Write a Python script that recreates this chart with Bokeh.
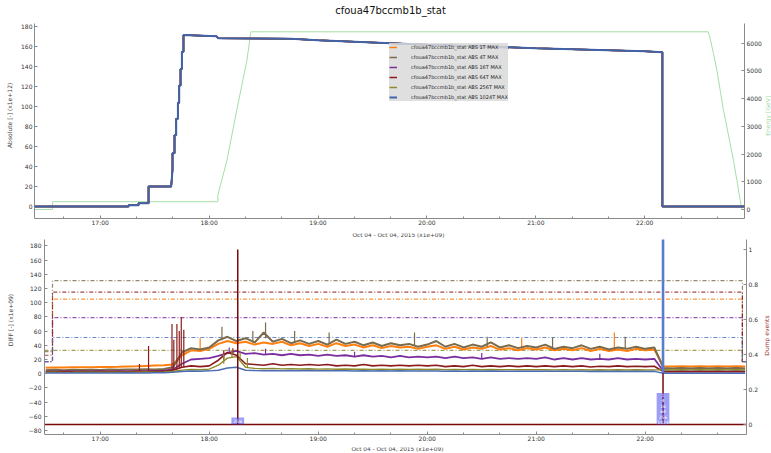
import math
import pandas as pd
from bokeh.plotting import figure
from bokeh.models import (Range1d, LinearAxis, FixedTicker, DatetimeTickFormatter,
                          CustomJSTickFormatter, Legend, LegendItem)
from bokeh.layouts import column, row
from bokeh.embed import file_html
from bokeh.resources import INLINE
from bokeh.core.properties import value

DAY = "2015-10-04"
FONT = "DejaVu Sans"
STAT = "cfoua47bccmb1b_stat"
TIME_LABEL = "Oct 04 - Oct 04, 2015 (x1e+09)"

# ---------------------------------------------------------------- data
series_names = ["1T", "4T", "16T", "64T", "256T", "1024T"]
series_colors = {"1T": "#ff7f0e", "4T": "#7a6b4c", "16T": "#7a2ea0",
                 "64T": "#8b1a1a", "256T": "#8c8a2a", "1024T": "#4a6db4"}

hour_ticks = ["17:00", "18:00", "19:00", "20:00", "21:00", "22:00"]
minor_ticks = ["16:40", "17:20", "17:40", "18:20", "18:40", "19:20", "19:40",
               "20:20", "20:40", "21:20", "21:40", "22:20", "22:40"]

# absolute losses (x1e12), identical for every running sum
abs_time = ["16:23:48", "17:15:36", "17:15:36", "17:21:07", "17:21:07", "17:26:38",
            "17:26:38", "17:39:07", "17:39:50", "17:39:50", "17:40:56", "17:40:56",
            "17:41:52", "17:41:52", "17:42:49", "17:42:49", "17:43:32", "17:43:32",
            "17:44:15", "17:44:15", "17:45:01", "17:45:01", "17:45:53", "17:45:53",
            "18:04:01", "18:05:06", "18:45:00", "19:00:00", "19:20:00", "20:00:00",
            "21:00:00", "22:00:00", "22:09:45", "22:09:45", "22:54:59"]
abs_value = [0, 0, 1.3, 1.3, 3.3, 3.3, 20, 20, 36.7, 53.3, 53.3, 71.3, 71.3, 88,
             88, 104, 104, 121.3, 121.3, 137.7, 137.7, 155, 155, 171.7, 170.5,
             168.5, 168, 166.5, 165, 162, 158.5, 155.5, 154.5, 0, 0]

# beam energy [GeV]
energy_time = ["16:23:48", "16:33:43", "16:33:43", "18:04:51", "18:04:51", "18:09:49",
               "18:15:12", "18:20:49", "18:23:01", "22:35:00", "22:36:05", "22:37:55",
               "22:39:47", "22:41:36", "22:43:25", "22:45:17", "22:47:06", "22:48:55",
               "22:50:48", "22:52:37", "22:53:30", "22:54:59"]
energy_value = [0, 0, 280, 280, 530, 1768, 3572, 5376, 6411, 6411, 6162, 5620,
                5018, 4296, 3574, 2971, 2371, 1769, 1047, 325, 0, 0]

# dump thresholds (x1e9)
thr_time = ["16:29:19", "16:33:43", "22:53:30", "22:55:45"]
thr_value = {"1T": [17, 105, 17, 17], "4T": [31, 131, 17, 17],
             "16T": [17, 79, 17, 17], "64T": [26, 115, 17, 17],
             "256T": [33, 33, 17, 17], "1024T": [17, 51, 17, 17]}

# differential losses (x1e9), sampled every 5 minutes from 16:30 to 22:55
diff_value = {
    "1T": [8.5, 8.8, 8.6, 9.0, 9.2, 9.0, 9.4, 9.6, 9.8, 10.2, 10.5, 11.0, 11.5, 12.0,
           13, 26, 33, 32, 35, 42, 46, 43, 45, 41, 44, 42, 45, 40, 43, 39, 42,
           38, 43, 39, 41, 37, 40, 36, 39, 37, 38, 35,
           38, 40, 35, 38, 34, 37, 35, 39, 34, 36, 33, 36,
           34, 37, 33, 35, 33, 36, 32, 35, 32, 34, 32, 35, 33, 34,
           10.5, 10.0, 10.5, 10.2, 10.6, 10.2, 10.5, 10.0, 10.4, 10.2],
    "4T": [5.0, 5.5, 5.0, 5.5, 5.2, 5.6, 5.3, 5.8, 5.5, 6.0, 5.8, 6.2, 6.0, 6.5,
           9, 30, 36, 34, 37, 47, 52, 46, 50, 44, 58, 45, 49, 43, 47, 42, 46,
           41, 48, 42, 45, 40, 44, 39, 43, 40, 42, 38,
           41, 46, 38, 42, 37, 41, 38, 44, 37, 40, 36, 39,
           37, 41, 35, 38, 36, 40, 35, 38, 34, 37, 35, 38, 35, 37,
           8.0, 7.5, 8.0, 7.5, 8.0, 7.5, 8.0, 7.5, 8.0, 7.5],
    "16T": [3.2, 3.0, 3.3, 3.1, 3.4, 3.2, 3.5, 3.3, 3.6, 3.4, 3.7, 3.6, 4.0, 4.2,
            6, 14, 20, 21, 22, 25, 29, 32, 28, 29, 27, 28, 26, 28, 26, 27, 25,
            27, 25, 26, 24, 26, 24, 25, 23, 25, 23, 24,
            23, 24, 22, 24, 22, 23, 21, 23, 21, 22, 21, 22,
            21, 23, 20, 22, 20, 22, 20, 21, 20, 22, 20, 21, 20, 21,
            3.5, 3.3, 3.5, 3.3, 3.5, 3.3, 3.5, 3.3, 3.5, 3.3],
    "64T": [2.8, 2.6, 2.9, 2.7, 3.0, 2.8, 3.1, 2.9, 3.2, 3.0, 3.3, 3.1, 3.4, 3.5,
            5, 9, 11, 10, 11, 19, 30, 26, 14, 13, 12, 14, 12, 13, 12, 13, 12,
            13, 11, 12, 11, 13, 11, 12, 11, 12, 11, 12,
            11, 12, 10, 11, 10, 12, 10, 11, 10, 11, 10, 11,
            10, 11, 10, 11, 10, 11, 9.5, 10.5, 10, 11, 10, 10.5, 10, 10.5,
            3.0, 2.8, 3.0, 2.8, 3.0, 2.8, 3.0, 2.8, 3.0, 2.8],
    "256T": [2.0, 2.1, 1.9, 2.0, 2.2, 2.0, 2.1, 2.2, 2.0, 2.3, 2.2, 2.4, 2.3, 2.5,
             3.5, 5, 6, 5.5, 6.5, 12, 22, 24, 9, 7.5, 7, 7.5, 6.8, 7.2, 6.6, 7.0, 6.5,
             6.8, 6.3, 6.7, 6.2, 6.5, 6.1, 6.4, 6.0, 6.3, 5.9, 6.2,
             6.0, 6.2, 5.8, 6.1, 5.7, 6.0, 5.6, 5.9, 5.6, 5.8, 5.5, 5.8,
             5.5, 5.7, 5.4, 5.7, 5.4, 5.6, 5.3, 5.6, 5.3, 5.5, 5.2, 5.5, 5.2, 5.4,
             5.5, 5.3, 5.6, 5.4, 5.5, 5.3, 5.6, 5.4, 5.5, 5.3],
    "1024T": [1.0, 1.1, 0.9, 1.0, 1.1, 1.0, 0.9, 1.1, 1.0, 1.2, 1.1, 1.0, 1.2, 1.3,
              2, 3, 3.8, 3.6, 4.0, 5, 8, 9, 5, 4.5, 4.2, 4.6, 4.3, 4.5, 4.2, 4.4, 4.1,
              4.3, 4.0, 4.2, 3.9, 4.1, 3.8, 4.0, 3.8, 4.0, 3.7, 3.9,
              3.7, 3.9, 3.6, 3.8, 3.5, 3.7, 3.5, 3.7, 3.4, 3.6, 3.4, 3.6,
              3.4, 3.6, 3.3, 3.5, 3.3, 3.5, 3.2, 3.4, 3.2, 3.4, 3.1, 3.3, 3.1, 3.3,
              0.6, 0.5, 0.6, 0.5, 0.6, 0.5, 0.6, 0.5, 0.6, 0.5],
}

# short loss spikes: time, level before the spike, spike top
spike_time = {
    "1T": ["17:55:00", "20:52:00", "21:43:00"],
    "4T": ["18:07:00", "18:24:00", "18:31:00", "18:47:00", "19:06:00", "19:53:00",
           "20:33:00", "21:09:00", "21:49:00"],
    "16T": ["18:11:00", "18:31:00", "19:20:00", "20:30:00", "21:35:00"],
    "64T": ["17:21:36", "17:26:36", "17:39:30", "17:40:30", "17:42:12", "17:43:30",
            "17:44:36", "17:46:00", "18:08:00", "18:13:00"],
    "256T": ["18:08:00", "18:12:30", "18:17:00", "18:21:00"],
    "1024T": ["22:09:48"],
}
spike_base = {"1T": [32, 34, 32], "4T": [47, 44, 50, 44, 42, 40, 38, 37, 36],
              "16T": [29, 27, 24, 21, 20], "64T": [3.1, 3.1, 4, 5, 6, 7, 8, 9, 20, 28],
              "256T": [14, 22, 20, 9], "1024T": [0.5]}
spike_peak = {"1T": [50, 50, 58], "4T": [66, 60, 72, 60, 58, 58, 52, 51, 52],
              "16T": [37, 35, 31, 29, 28], "64T": [13.6, 39, 70, 48, 70, 60, 80, 62, 33, 36],
              "256T": [28, 33, 30, 22], "1024T": [155000]}

# dump events and the thresholds that fired
dump_time = ["18:15:42", "22:09:48"]
dump_flag = [1, 1]
dump_label = ["256", "1\n4\n16\n64\n256\n1024"]


# ---------------------------------------------------------------- helpers
def at(hms):
    return pd.Timestamp(f"{DAY} {hms}")


def times(lst):
    return [at(s) for s in lst]


def ms(lst):
    return [at(s).value // 10**6 for s in lst]


def text_strip(width, height, text, x, y, size="6px", color="#444444", vertical=False):
    # a small frameless canvas holding one caption (titles and axis titles)
    s = figure(width=width, height=height, x_range=Range1d(0, width),
               y_range=Range1d(0, height), output_backend="svg",
               toolbar_location=None, min_border=0,
               x_axis_location=None, y_axis_location=None)
    s.outline_line_color = None
    s.grid.visible = False
    s.text(x=[x], y=[y], text=[text], angle=math.pi / 2 if vertical else 0,
           text_align="center", text_baseline="middle",
           text_font=value(FONT), text_font_size=size, text_color=color)
    return s


def style_axis(ax, standoff):
    ax.axis_line_color = "#8a8a8a"
    ax.major_tick_line_color = "#8a8a8a"
    ax.minor_tick_line_color = "#8a8a8a"
    ax.major_tick_in = 3
    ax.major_tick_out = 0
    ax.minor_tick_in = 2
    ax.minor_tick_out = 0
    ax.major_label_text_font = FONT
    ax.major_label_text_font_size = "6px"
    ax.major_label_text_color = "#333333"
    ax.major_label_standoff = standoff


def time_axis(p):
    ax = p.xaxis[0]
    ax.ticker = FixedTicker(ticks=ms(hour_ticks), minor_ticks=ms(minor_ticks))
    ax.formatter = DatetimeTickFormatter(hours="%H:%M", hourmin="%H:%M",
                                         minutes="%H:%M", minsec="%H:%M",
                                         days="%H:%M")
    style_axis(ax, 0)


# ---------------------------------------------------------------- top: absolute
p1 = figure(width=747, height=207, x_axis_type="datetime",
            x_range=Range1d(at("16:23:48"), at("22:54:59")),
            y_range=Range1d(-12, 183.3),
            output_backend="svg", toolbar_location=None,
            min_border_left=16, min_border_right=21,
            min_border_top=0, min_border_bottom=12)
p1.outline_line_color = None
p1.grid.visible = False

p1.extra_y_ranges = {"energy": Range1d(-325, 6711)}
p1.line(times(energy_time), energy_value, y_range_name="energy",
        line_color="#a6dea6", line_width=1)

legend_items = []
abs_t = times(abs_time)
for name in series_names:
    r = p1.line(abs_t, abs_value, line_color=series_colors[name], line_width=1.5)
    legend_items.append(LegendItem(label=f"{STAT} ABS {name} MAX", renderers=[r]))
r.glyph.line_color = "#4262aa"
r.glyph.line_width = 2
r.level = "overlay"

time_axis(p1)
ly = p1.yaxis[0]
ly.ticker = FixedTicker(ticks=list(range(0, 181, 20)))
style_axis(ly, 2)

ry = LinearAxis(y_range_name="energy", ticker=FixedTicker(ticks=list(range(0, 6001, 1000))))
style_axis(ry, 2)
p1.add_layout(ry, "right")

legend = Legend(items=legend_items, location=(355, 117),
                label_text_font=FONT, label_text_font_size="5px",
                label_text_color="#222222",
                label_height=8, glyph_height=8, glyph_width=8, spacing=2,
                padding=1, margin=0, label_standoff=14, label_width=96,
                background_fill_color="#d9d9d9", background_fill_alpha=0.85,
                border_line_color=None)
p1.add_layout(legend)

# ---------------------------------------------------------------- bottom: differential
p2 = figure(width=746, height=205, x_axis_type="datetime",
            x_range=Range1d(at("16:29:19"), at("22:55:45")),
            y_range=Range1d(-85.6, 189),
            output_backend="svg", toolbar_location=None,
            min_border_left=26, min_border_right=18,
            min_border_top=0, min_border_bottom=9)
p2.outline_line_color = None
p2.grid.visible = False
p2.extra_y_ranges = {"dump": Range1d(-0.057, 1.057)}

thr_t = times(thr_time)
for name in series_names:
    p2.step(thr_t, thr_value[name], mode="after", line_color=series_colors[name],
            line_alpha=0.8, line_width=1.2, line_dash="4 2 1 2")

grid_t = list(pd.date_range(f"{DAY} 16:30", f"{DAY} 22:55", freq="5min"))
line_widths = {"1T": 2.0, "4T": 2.0, "16T": 1.8, "64T": 1.6, "256T": 1.4, "1024T": 1.5}
for name in series_names:
    p2.line(grid_t, diff_value[name], line_color=series_colors[name],
            line_width=line_widths[name])
    if name != "1024T":
        p2.segment(x0=times(spike_time[name]), y0=spike_base[name],
                   x1=times(spike_time[name]), y1=spike_peak[name],
                   line_color=series_colors[name], line_width=1.2)

# dump events on the right-hand scale
dump_t = [at("16:29:19")]
dump_v = [0]
for t, f in zip(dump_time, dump_flag):
    dump_t += [at(t)] * 3
    dump_v += [0, f, 0]
dump_t.append(at("22:55:45"))
dump_v.append(0)
p2.line(dump_t, dump_v, y_range_name="dump", line_color="#7a0a0a", line_width=1.5)

p2.segment(x0=times(spike_time["1024T"]), y0=spike_base["1024T"],
           x1=times(spike_time["1024T"]), y1=spike_peak["1024T"],
           line_color="#5a7ccc", line_width=2.6)

n_lines = [lab.count("\n") + 1 for lab in dump_label]
box_top = [0.012 + 0.028 * n for n in n_lines]
p2.vbar(x=times(dump_time), bottom=0, top=box_top, width=7 * 60 * 1000,
        y_range_name="dump", fill_color="#3b3bf0", fill_alpha=0.5, line_color=None)
p2.text(x=times(dump_time), y=[b / 2 for b in box_top], text=dump_label,
        y_range_name="dump", text_font=value(FONT), text_font_size="4.5px",
        text_color="white", text_align="center", text_baseline="middle",
        text_line_height=1.1)

time_axis(p2)
ly2 = p2.yaxis[0]
ly2.ticker = FixedTicker(ticks=list(range(-80, 181, 20)))
style_axis(ly2, 3)

ry2 = LinearAxis(y_range_name="dump", ticker=FixedTicker(ticks=[0, 0.2, 0.4, 0.6, 0.8, 1.0]),
                 formatter=CustomJSTickFormatter(code="return String(Math.round(tick * 10) / 10);"))
style_axis(ry2, 2)
p2.add_layout(ry2, "right")

# ---------------------------------------------------------------- captions and page
title_strip = text_strip(771, 23, STAT, 390, 13, size="10px", color="#111111")
top_row = row(text_strip(18, 207, "Absolute [-] (x1e+12)", 9, 109.5, vertical=True),
              p1,
              text_strip(6, 207, "Energy [GeV]", 2.3, 109, color="#9fdc9f", vertical=True),
              spacing=0)
top_time = text_strip(771, 9, TIME_LABEL, 398, 7.5, size="5.8px")
bottom_row = row(text_strip(18, 205, "DIFF [-] (x1e+09)", 9.7, 120.4, vertical=True),
                 p2,
                 text_strip(7, 205, "Dump events", 2.3, 104, color="#a03030", vertical=True),
                 spacing=0)
bottom_time = text_strip(771, 9, TIME_LABEL, 397, 7.5, size="5.8px")

layout = column(title_strip, top_row, top_time, bottom_row, bottom_time, spacing=0)
open("out.html", "w").write(file_html(layout, INLINE))
